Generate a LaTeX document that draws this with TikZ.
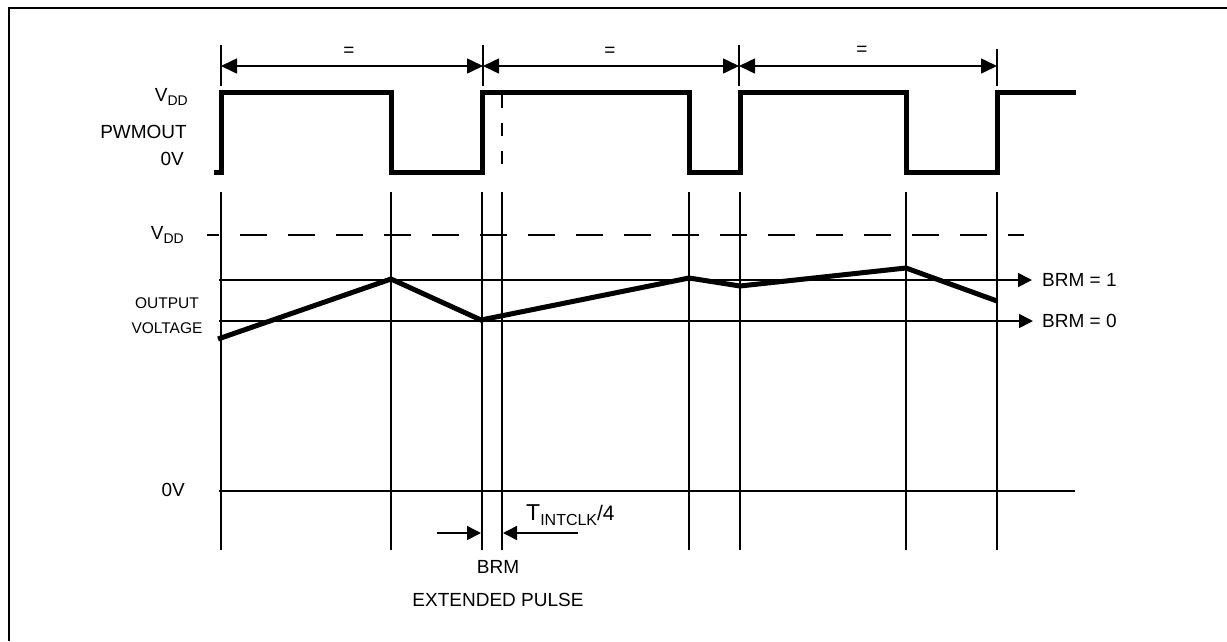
\documentclass[tikz,border=0pt]{standalone}
\usepackage{fontspec}
\setmainfont{Liberation Sans}
\usetikzlibrary{arrows.meta}
\newcommand{\lowtxt}[2][14]{\raisebox{-0.45ex}{\fontsize{#1}{#1}\selectfont #2}}
\begin{document}
\begin{tikzpicture}[
        x=1pt, y=-1pt,
        >={Triangle[length=16pt, width=15pt]},
        lbl/.style={
            inner sep=0pt,
            font=\fontsize{19}{22}\selectfont
        },
        smalllbl/.style={
            inner sep=0pt,
            font=\fontsize{15.5}{18}\selectfont
        },
        wave/.style={
            line width=5pt,
            line join=miter
        },
        gridline/.style={
            line width=1.6pt
        },
        dimarrow/.style={
            <->,
            line width=1.6pt
        },
        brmarrow/.style={
            -{Triangle[length=14pt, width=14pt]},
            line width=1.6pt
        }
    ]
    \useasboundingbox (0,0) rectangle (1227,641);

    \draw[line width=2.5pt] (9,641) -- (9,8) -- (1227,8);

    % period markers
    \foreach \x/\t in {221/45, 483/45, 739/45, 997/49}
        \draw[gridline] (\x,\t) -- (\x,86);
    \coordinate (p0) at (221,66);
    \coordinate (p1) at (483,66);
    \coordinate (p2) at (739,66);
    \coordinate (p3) at (997,66);
    \draw[dimarrow] (p0) -- (p1);
    \draw[dimarrow] (p1) -- (p2);
    \draw[dimarrow] (p2) -- (p3);
    \node[lbl] (eq1) at (349,52) {=};
    \node[lbl] (eq2) at (610,52) {=};
    \node[lbl] (eq3) at (862,51) {=};

    % PWMOUT waveform
    \node[lbl, anchor=east] (vdd_hi) at (188,97)  {V\lowtxt{DD}};
    \node[lbl, anchor=east] (pwmout) at (187,132) {PWMOUT};
    \node[lbl, anchor=east] (zero_hi) at (184,159) {0V};

    \draw[wave] (214,172) -- (221,172) -- (221,92) -- (391,92) -- (391,172)
        -- (482,172) -- (482,92) -- (689,92) -- (689,172) -- (740,172)
        -- (740,92) -- (906,92) -- (906,172) -- (997,172) -- (997,92) -- (1076,92);
    \draw[gridline, dash pattern=on 13pt off 15pt] (502,95) -- (502,173);

    % output voltage
    \foreach \x in {221, 391, 482, 502, 689, 740, 906, 997}
        \draw[gridline] (\x,192) -- (\x,550);

    \node[lbl, anchor=east] (vdd_lo) at (184,235) {V\lowtxt{DD}};
    \draw[gridline, dash pattern=on 27pt off 21pt, dash phase=15pt] (207,235) -- (1024,235);

    \node[smalllbl] (out1) at (167,303) {OUTPUT};
    \node[smalllbl] (out2) at (167,328) {VOLTAGE};

    \coordinate (b1) at (219,280);
    \coordinate (b1e) at (1032,280);
    \coordinate (b0) at (219,321);
    \coordinate (b0e) at (1033,321);
    \draw[brmarrow] (b1) -- (b1e);
    \draw[brmarrow] (b0) -- (b0e);
    \node[lbl, anchor=west] (brm1) at (1042,280) {BRM = 1};
    \node[lbl, anchor=west] (brm0) at (1042,321) {BRM = 0};

    \draw[line width=5pt, line join=miter] (218,339) -- (391,279) -- (481,320)
        -- (689,278) -- (740,286) -- (906,268) -- (997,301);

    \node[lbl, anchor=east] (zero_lo) at (185,490) {0V};
    \draw[gridline] (219,491) -- (1075,491);

    % extended pulse
    \coordinate (e0) at (437,533);
    \coordinate (e1) at (481,533);
    \coordinate (e2) at (503,533);
    \coordinate (e3) at (578,533);
    \draw[brmarrow] (e0) -- (e1);
    \draw[brmarrow] (e3) -- (e2);
    \node[anchor=base west, inner sep=0pt, font=\fontsize{23}{26}\selectfont] (tclk)
        at (526,520) {T\lowtxt[16]{INTCLK}\fontsize{21}{24}\selectfont/4};
    \node[lbl] (brm) at (498,567) {BRM};
    \node[lbl] (ext) at (498,600) {EXTENDED PULSE};

\end{tikzpicture}
\end{document}
